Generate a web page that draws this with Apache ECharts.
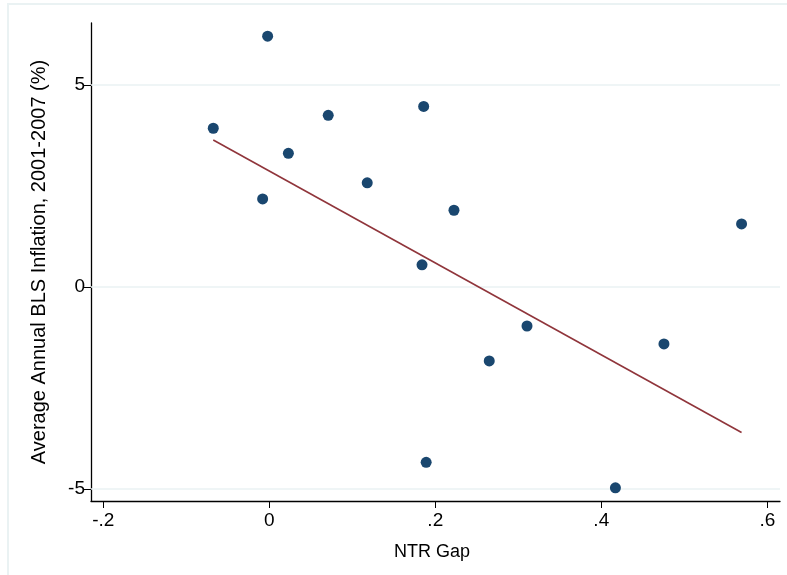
<!DOCTYPE html>
<html>
<head>
<meta charset="utf-8">
<script src="https://cdn.jsdelivr.net/npm/echarts@6/dist/echarts.min.js"></script>
<style>
  html, body { margin: 0; padding: 0; background: #fff; }
  #main { width: 787px; height: 575px; }
</style>
</head>
<body>
<div id="main"></div>
<script>
// NTR gap vs average annual BLS inflation
var ntrGap = [-0.002, -0.0675, 0.071, 0.186, 0.023, -0.008, 0.118, 0.2225, 0.184, 0.569, 0.3105, 0.265, 0.4755, 0.189, 0.417];
var inflation = [6.21, 3.93, 4.25, 4.47, 3.31, 2.18, 2.58, 1.90, 0.55, 1.56, -0.965, -1.83, -1.41, -4.34, -4.97];

// fitted line endpoints
var fitX = [-0.0675, 0.569];
var fitY = [3.64, -3.60];

var xTicks = [-0.2, 0, 0.2, 0.4, 0.6];
var yTicks = [-5, 0, 5];

var fmt = function (v) {
  var s = String(Math.round(v * 10) / 10);
  return s.replace(/^(-?)0\./, '$1.');
};

var points = ntrGap.map(function (x, i) { return [x, inflation[i]]; });
var fitLine = fitX.map(function (x, i) { return [x, fitY[i]]; });

var myChart = echarts.init(document.getElementById('main'));
myChart.setOption({
  backgroundColor: '#ffffff',
  animation: false,
  textStyle: { fontFamily: 'Liberation Sans, Arial, sans-serif' },
  graphic: [{
    type: 'rect',
    shape: { x: 8, y: 4, width: 800, height: 600 },
    style: { fill: 'none', stroke: '#eaf2f3', lineWidth: 2 },
    silent: true
  }],
  grid: { left: 91, top: 23, right: 7, bottom: 74 },
  xAxis: {
    type: 'value',
    min: -0.2148,
    max: 0.6153,
    name: 'NTR Gap',
    nameLocation: 'middle',
    nameGap: 42,
    nameTextStyle: { color: '#000', fontSize: 18, padding: [0, 7, 0, 0] },
    axisLine: { show: true, onZero: false, lineStyle: { color: '#000', width: 1.3 } },
    axisTick: { show: true, length: 7, customValues: xTicks, lineStyle: { color: '#000' } },
    axisLabel: { customValues: xTicks, formatter: fmt, color: '#000', fontSize: 19, margin: 10 },
    splitLine: { show: false }
  },
  yAxis: {
    type: 'value',
    min: -5.297,
    max: 6.535,
    name: 'Average Annual BLS Inflation, 2001-2007 (%)',
    nameLocation: 'middle',
    nameGap: 42,
    nameTextStyle: { color: '#000', fontSize: 20 },
    axisLine: { show: true, onZero: false, lineStyle: { color: '#000', width: 1.3 } },
    axisTick: { show: true, length: 8, customValues: yTicks, lineStyle: { color: '#000' } },
    axisLabel: { customValues: yTicks, formatter: fmt, color: '#000', fontSize: 19, margin: 6 },
    splitLine: { show: false }
  },
  series: [
    {
      // gridlines only, kept beneath the marks
      type: 'scatter',
      data: [],
      z: 1,
      markLine: {
        z: 1,
        silent: true,
        symbol: 'none',
        label: { show: false },
        lineStyle: { color: '#eaf2f3', type: 'solid', width: 1.5 },
        data: yTicks.map(function (v) { return { yAxis: v }; })
      }
    },
    {
      type: 'line',
      data: fitLine,
      showSymbol: false,
      symbol: 'none',
      lineStyle: { color: '#90353b', width: 1.6 },
      z: 2
    },
    {
      type: 'scatter',
      data: points,
      symbolSize: 11,
      itemStyle: { color: '#1a476f', opacity: 1 },
      z: 3
    }
  ]
});
</script>
</body>
</html>
